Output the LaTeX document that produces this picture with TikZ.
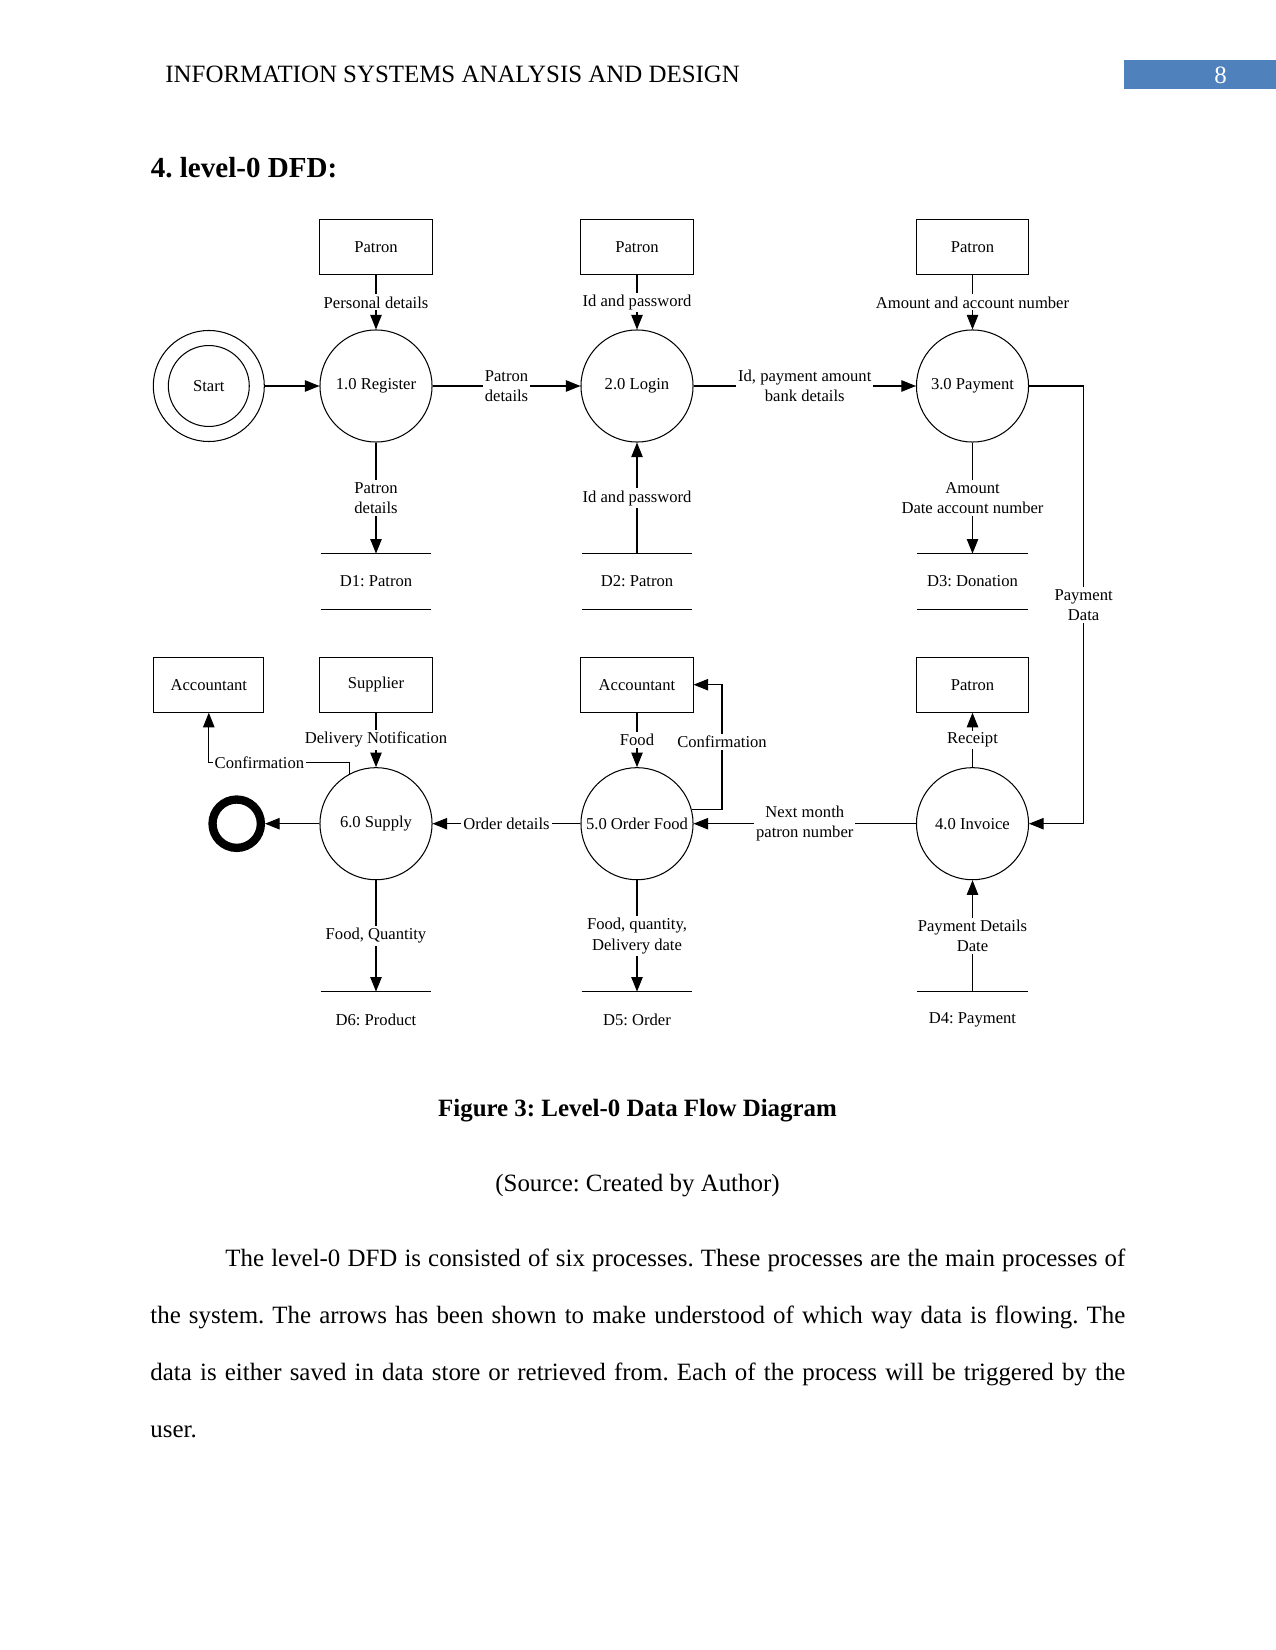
\documentclass[tikz,border=0pt]{standalone}
\usepackage{fontspec}
\setmainfont{Liberation Serif}
\usetikzlibrary{arrows.meta,positioning,calc}
\definecolor{pagebox}{HTML}{4F81BD}
\frenchspacing

\begin{document}
\begin{tikzpicture}[
  x=0.4818pt, y=-0.4818pt,
  entity/.style={draw, line width=0.5pt, minimum width=54pt, minimum height=26.5pt,
                 inner sep=1pt, font=\fontsize{8}{9.8}\selectfont},
  process/.style={draw, circle, line width=0.5pt, minimum size=54pt,
                  inner sep=0pt, font=\fontsize{8}{9.8}\selectfont},
  store/.style={minimum width=53pt, minimum height=26.5pt, inner sep=0pt,
                font=\fontsize{8}{9.8}\selectfont},
  lbl/.style={fill=white, inner sep=1pt, align=center,
              font=\fontsize{8}{9.8}\selectfont},
  flow/.style={line width=0.5pt, -{Triangle[length=7pt, width=5.5pt]}},
  rule/.style={line width=0.5pt},
  body/.style={inner sep=0pt, font=\fontsize{12}{14}\selectfont},
]
\useasboundingbox (0,0) rectangle (1275,1650);
\fill[white] (0,0) rectangle (1275,1650);

% Page header
\node[body, anchor=base west] (header) at (165,83) {INFORMATION SYSTEMS ANALYSIS AND DESIGN};
\node[fill=pagebox, anchor=north west, minimum width=72.8pt, minimum height=14pt, inner sep=0pt] (pgbox) at (1124,60) {};
\node[body, text=white] (pgnum) at (1220.7,75) {8};
\node[anchor=base west, inner sep=0pt, font=\fontsize{14}{16}\selectfont\bfseries] (title) at (150.4,178) {4. level-0 DFD:};

% External entities
\node[entity] (e1) at (376,247.3) {Patron};
\node[entity] (e2) at (637,247.3) {Patron};
\node[entity] (e3) at (972.5,247.3) {Patron};
\node[entity, minimum width=53pt] (e4) at (208.8,684.7) {Accountant};
\node[entity] (e5) at (376,684.7) {Supplier};
\node[entity] (e6) at (637,684.7) {Accountant};
\node[entity] (e7) at (972.5,684.7) {Patron};

% Processes
\node[process, minimum size=53.5pt] (start) at (208.8,386) {};
\node[process, minimum size=39pt] (startin) at (start) {Start};
\node[process] (p1) at (376,386) {1.0 Register};
\node[process] (p2) at (637,386) {2.0 Login};
\node[process] (p3) at (972.5,386) {3.0 Payment};
\node[process] (p4) at (972.5,823.7) {4.0 Invoice};
\node[process] (p5) at (637,823.7) {5.0 Order Food};
\node[process] (p6) at (376,823.7) {6.0 Supply};
\node[draw, circle, line width=4pt, minimum size=23.3pt, inner sep=0pt] (finish) at (236.7,823.7) {};

% Data stores
\node[store] (d1) at (376,581.5) {D1: Patron};
\node[store] (d2) at (637,581.5) {D2: Patron};
\node[store] (d3) at (972.5,581.5) {D3: Donation};
\node[store] (d4) at (972.5,1019.5) {D4: Payment};
\node[store] (d5) at (637,1019.5) {D5: Order};
\node[store] (d6) at (376,1019.5) {D6: Product};
\foreach \s in {d1,d2,d3}{
  \draw[rule] (\s.north west) -- (\s.north east);
  \draw[rule] (\s.south west) -- (\s.south east);
}
\foreach \s in {d4,d5,d6}{
  \draw[rule] (\s.north west) -- (\s.north east);
}

% Corners
\coordinate (pc1) at (1083.6,386);
\coordinate (pc2) at (1083.6,823.7);
\coordinate (cf1) at (208.8,762.3);
\coordinate (cf2) at (722,684.7);

% Flows, top row
\draw[flow] (e1.south) -- node[lbl] (l1) {Personal details} (p1.north);
\draw[flow] (e2.south) -- node[lbl] (l2) {Id and password} (p2.north);
\draw[flow] (e3.south) -- node[lbl] (l3) {Amount and account number} (p3.north);
\draw[flow] (start.east) -- (p1.west);
\draw[flow] (p1.east) -- node[lbl] (l4) {Patron\\details} (p2.west);
\draw[flow] (p2.east) -- node[lbl] (l5) {Id, payment amount\\bank details} (p3.west);
\draw[flow] (p1.south) -- node[lbl] (l6) {Patron\\details} (d1.north);
\draw[flow] (d2.north) -- node[lbl] (l7) {Id and password} (p2.south);
\draw[flow] (p3.south) -- node[lbl] (l8) {Amount\\Date account number} (d3.north);
\draw[flow] (p3.east) -- (pc1) -- node[lbl] (l9) {Payment\\Data} (pc2) -- (p4.east);

% Flows, bottom row
\draw[flow] (e5.south) -- node[lbl] (l10) {Delivery Notification} (p6.north);
\draw[flow] (e6.south) -- node[lbl] (l11) {Food} (p5.north);
\draw[flow] (p4.north) -- node[lbl] (l12) {Receipt} (e7.south);
\draw[flow] (p4.west) -- node[lbl] (l13) {Next month\\patron number} (p5.east);
\draw[flow] (p5.west) -- node[lbl] (l14) {Order details} (p6.east);
\draw[flow] (p6.west) -- (finish.east);
\draw[flow] (p6.south) -- node[lbl] (l15) {Food, Quantity} (d6.north);
\draw[flow] (p5.south) -- node[lbl] (l16) {Food, quantity,\\Delivery date} (d5.north);
\draw[flow] (d4.north) -- node[lbl] (l17) {Payment Details\\Date} (p4.south);
\draw[flow] (p6.118) |- node[lbl, pos=0.82] (l18) {Confirmation} (cf1) -- (e4.south);
\draw[flow] (p5.15) -| node[lbl, pos=0.77] (l19) {Confirmation} (cf2) -- (e6.east);

% Caption and text
\node[body, anchor=base, font=\fontsize{12}{14}\selectfont\bfseries] (caption) at (637.5,1116) {Figure 3: Level-0 Data Flow Diagram};
\node[body, anchor=base] (source) at (637.5,1191) {(Source: Created by Author)};
\node[body, anchor=base west] (par1) at (225,1266) {\hbox to 6in{The level-0 DFD is consisted of six processes. These processes are the main processes of}};
\node[body, anchor=base west] (par2) at (150,1323) {\hbox to 6.5in{the system. The arrows has been shown to make understood of which way data is flowing. The}};
\node[body, anchor=base west] (par3) at (150,1380.5) {\hbox to 6.5in{data is either saved in data store or retrieved from. Each of the process will be triggered by the}};
\node[body, anchor=base west] (par4) at (150,1437) {user.};
\end{tikzpicture}
\end{document}
